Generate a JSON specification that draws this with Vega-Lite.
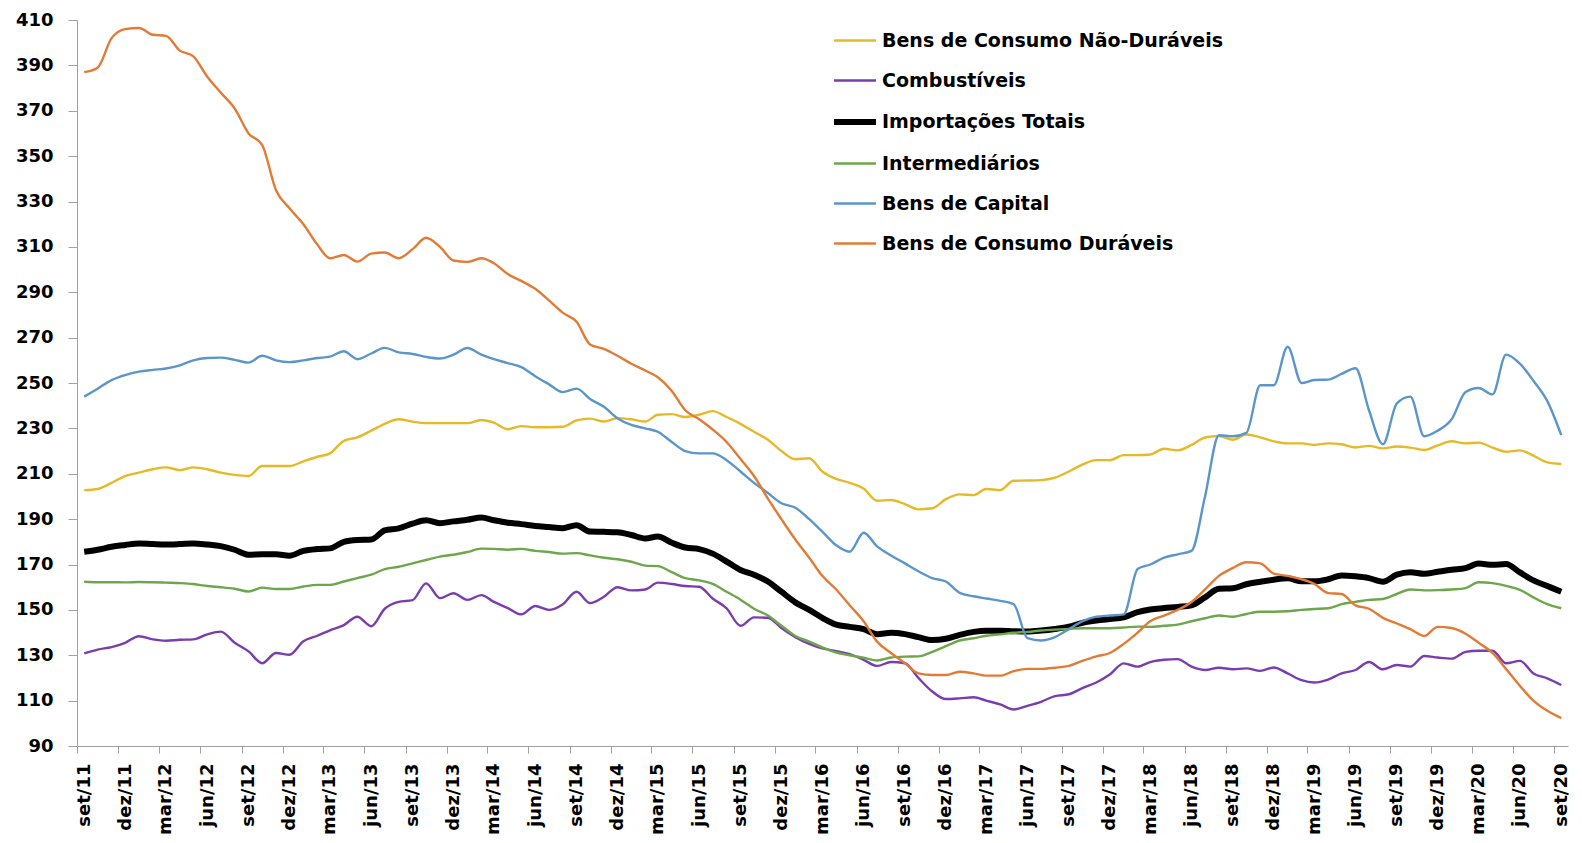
{
"$schema":"https://vega.github.io/schema/vega-lite/v6.json",
"width":1491,"height":726,
"autosize":{"type":"none"},
"padding":{"left":77,"top":20,"right":14,"bottom":97},
"background":"white",
"config":{"view":{"stroke":null},"font":"DejaVu Sans"},
"datasets":{"series":[
{"s":"ND","name":"Bens de Consumo Não-Duráveis"},
{"s":"C","name":"Combustíveis"},
{"s":"T","name":"Importações Totais"},
{"s":"I","name":"Intermediários"},
{"s":"K","name":"Bens de Capital"},
{"s":"D","name":"Bens de Consumo Duráveis"}
]},
"data":{"values":[
{"d":"2011-09","s":"ND","v":202.8},{"d":"2011-10","s":"ND","v":203.3},{"d":"2011-11","s":"ND","v":206},{"d":"2011-12","s":"ND","v":209},{"d":"2012-01","s":"ND","v":210.5},{"d":"2012-02","s":"ND","v":212},{"d":"2012-03","s":"ND","v":212.8},{"d":"2012-04","s":"ND","v":211.6},{"d":"2012-05","s":"ND","v":212.8},{"d":"2012-06","s":"ND","v":212},
{"d":"2012-07","s":"ND","v":210.5},{"d":"2012-08","s":"ND","v":209.5},{"d":"2012-09","s":"ND","v":209},{"d":"2012-10","s":"ND","v":213.4},{"d":"2012-11","s":"ND","v":213.4},{"d":"2012-12","s":"ND","v":213.4},{"d":"2013-01","s":"ND","v":215.5},{"d":"2013-02","s":"ND","v":217.5},{"d":"2013-03","s":"ND","v":219},{"d":"2013-04","s":"ND","v":224.5},
{"d":"2013-05","s":"ND","v":226},{"d":"2013-06","s":"ND","v":229},{"d":"2013-07","s":"ND","v":232},{"d":"2013-08","s":"ND","v":234},{"d":"2013-09","s":"ND","v":233},{"d":"2013-10","s":"ND","v":232.3},{"d":"2013-11","s":"ND","v":232.3},{"d":"2013-12","s":"ND","v":232.3},{"d":"2014-01","s":"ND","v":232.3},{"d":"2014-02","s":"ND","v":233.7},
{"d":"2014-03","s":"ND","v":232.5},{"d":"2014-04","s":"ND","v":229.6},{"d":"2014-05","s":"ND","v":231},{"d":"2014-06","s":"ND","v":230.5},{"d":"2014-07","s":"ND","v":230.5},{"d":"2014-08","s":"ND","v":230.7},{"d":"2014-09","s":"ND","v":233.5},{"d":"2014-10","s":"ND","v":234.3},{"d":"2014-11","s":"ND","v":233},{"d":"2014-12","s":"ND","v":234.5},
{"d":"2015-01","s":"ND","v":234},{"d":"2015-02","s":"ND","v":233},{"d":"2015-03","s":"ND","v":236},{"d":"2015-04","s":"ND","v":236.3},{"d":"2015-05","s":"ND","v":235},{"d":"2015-06","s":"ND","v":236},{"d":"2015-07","s":"ND","v":237.6},{"d":"2015-08","s":"ND","v":235},{"d":"2015-09","s":"ND","v":232},{"d":"2015-10","s":"ND","v":228.5},
{"d":"2015-11","s":"ND","v":225},{"d":"2015-12","s":"ND","v":220},{"d":"2016-01","s":"ND","v":216.4},{"d":"2016-02","s":"ND","v":216.8},{"d":"2016-03","s":"ND","v":211},{"d":"2016-04","s":"ND","v":207.7},{"d":"2016-05","s":"ND","v":206},{"d":"2016-06","s":"ND","v":203.5},{"d":"2016-07","s":"ND","v":198.1},{"d":"2016-08","s":"ND","v":198.4},
{"d":"2016-09","s":"ND","v":196.6},{"d":"2016-10","s":"ND","v":194.3},{"d":"2016-11","s":"ND","v":194.8},{"d":"2016-12","s":"ND","v":198.8},{"d":"2017-01","s":"ND","v":200.9},{"d":"2017-02","s":"ND","v":200.6},{"d":"2017-03","s":"ND","v":203.3},{"d":"2017-04","s":"ND","v":202.8},{"d":"2017-05","s":"ND","v":206.9},{"d":"2017-06","s":"ND","v":207},
{"d":"2017-07","s":"ND","v":207.2},{"d":"2017-08","s":"ND","v":208.3},{"d":"2017-09","s":"ND","v":211},{"d":"2017-10","s":"ND","v":214},{"d":"2017-11","s":"ND","v":216},{"d":"2017-12","s":"ND","v":216},{"d":"2018-01","s":"ND","v":218.2},{"d":"2018-02","s":"ND","v":218.2},{"d":"2018-03","s":"ND","v":218.5},{"d":"2018-04","s":"ND","v":221},
{"d":"2018-05","s":"ND","v":220.3},{"d":"2018-06","s":"ND","v":222.7},{"d":"2018-07","s":"ND","v":226},{"d":"2018-08","s":"ND","v":226.6},{"d":"2018-09","s":"ND","v":225},{"d":"2018-10","s":"ND","v":227.3},{"d":"2018-11","s":"ND","v":226},{"d":"2018-12","s":"ND","v":224.3},{"d":"2019-01","s":"ND","v":223.4},{"d":"2019-02","s":"ND","v":223.4},
{"d":"2019-03","s":"ND","v":222.7},{"d":"2019-04","s":"ND","v":223.4},{"d":"2019-05","s":"ND","v":223},{"d":"2019-06","s":"ND","v":221.6},{"d":"2019-07","s":"ND","v":222.3},{"d":"2019-08","s":"ND","v":221.2},{"d":"2019-09","s":"ND","v":222},{"d":"2019-10","s":"ND","v":221.5},{"d":"2019-11","s":"ND","v":220.5},{"d":"2019-12","s":"ND","v":222.5},
{"d":"2020-01","s":"ND","v":224.3},{"d":"2020-02","s":"ND","v":223.4},{"d":"2020-03","s":"ND","v":223.7},{"d":"2020-04","s":"ND","v":221.5},{"d":"2020-05","s":"ND","v":219.7},{"d":"2020-06","s":"ND","v":220.3},{"d":"2020-07","s":"ND","v":218},{"d":"2020-08","s":"ND","v":215},{"d":"2020-09","s":"ND","v":214.3},

{"d":"2011-09","s":"C","v":130.8},{"d":"2011-10","s":"C","v":132.5},{"d":"2011-11","s":"C","v":133.6},{"d":"2011-12","s":"C","v":135.5},{"d":"2012-01","s":"C","v":138.4},{"d":"2012-02","s":"C","v":137},{"d":"2012-03","s":"C","v":136.4},{"d":"2012-04","s":"C","v":136.8},{"d":"2012-05","s":"C","v":137},{"d":"2012-06","s":"C","v":139.2},
{"d":"2012-07","s":"C","v":140.4},{"d":"2012-08","s":"C","v":135.5},{"d":"2012-09","s":"C","v":131.7},{"d":"2012-10","s":"C","v":126.5},{"d":"2012-11","s":"C","v":131},{"d":"2012-12","s":"C","v":130.2},{"d":"2013-01","s":"C","v":136.2},{"d":"2013-02","s":"C","v":138.6},{"d":"2013-03","s":"C","v":141},{"d":"2013-04","s":"C","v":143.3},
{"d":"2013-05","s":"C","v":147},{"d":"2013-06","s":"C","v":142.8},{"d":"2013-07","s":"C","v":150.5},{"d":"2013-08","s":"C","v":153.5},{"d":"2013-09","s":"C","v":154.3},{"d":"2013-10","s":"C","v":161.7},{"d":"2013-11","s":"C","v":155.2},{"d":"2013-12","s":"C","v":157.3},{"d":"2014-01","s":"C","v":154.4},{"d":"2014-02","s":"C","v":156.5},
{"d":"2014-03","s":"C","v":153.5},{"d":"2014-04","s":"C","v":150.8},{"d":"2014-05","s":"C","v":148},{"d":"2014-06","s":"C","v":151.7},{"d":"2014-07","s":"C","v":150},{"d":"2014-08","s":"C","v":152.4},{"d":"2014-09","s":"C","v":158},{"d":"2014-10","s":"C","v":153},{"d":"2014-11","s":"C","v":155.8},{"d":"2014-12","s":"C","v":160},
{"d":"2015-01","s":"C","v":158.6},{"d":"2015-02","s":"C","v":159},{"d":"2015-03","s":"C","v":162},{"d":"2015-04","s":"C","v":161.4},{"d":"2015-05","s":"C","v":160.5},{"d":"2015-06","s":"C","v":160.2},{"d":"2015-07","s":"C","v":155},{"d":"2015-08","s":"C","v":150.7},{"d":"2015-09","s":"C","v":143},{"d":"2015-10","s":"C","v":146.7},
{"d":"2015-11","s":"C","v":146.5},{"d":"2015-12","s":"C","v":142},{"d":"2016-01","s":"C","v":138},{"d":"2016-02","s":"C","v":135},{"d":"2016-03","s":"C","v":133},{"d":"2016-04","s":"C","v":131.8},{"d":"2016-05","s":"C","v":130.5},{"d":"2016-06","s":"C","v":128},{"d":"2016-07","s":"C","v":125.3},{"d":"2016-08","s":"C","v":127},
{"d":"2016-09","s":"C","v":126.5},{"d":"2016-10","s":"C","v":120},{"d":"2016-11","s":"C","v":114},{"d":"2016-12","s":"C","v":110.7},{"d":"2017-01","s":"C","v":111},{"d":"2017-02","s":"C","v":111.5},{"d":"2017-03","s":"C","v":110},{"d":"2017-04","s":"C","v":108.3},{"d":"2017-05","s":"C","v":106.1},{"d":"2017-06","s":"C","v":107.7},
{"d":"2017-07","s":"C","v":109.5},{"d":"2017-08","s":"C","v":112},{"d":"2017-09","s":"C","v":112.8},{"d":"2017-10","s":"C","v":115.5},{"d":"2017-11","s":"C","v":118},{"d":"2017-12","s":"C","v":121.5},{"d":"2018-01","s":"C","v":126.4},{"d":"2018-02","s":"C","v":125},{"d":"2018-03","s":"C","v":127},{"d":"2018-04","s":"C","v":128},
{"d":"2018-05","s":"C","v":128.3},{"d":"2018-06","s":"C","v":125},{"d":"2018-07","s":"C","v":123.5},{"d":"2018-08","s":"C","v":124.5},{"d":"2018-09","s":"C","v":123.8},{"d":"2018-10","s":"C","v":124.2},{"d":"2018-11","s":"C","v":123.1},{"d":"2018-12","s":"C","v":124.6},{"d":"2019-01","s":"C","v":122},{"d":"2019-02","s":"C","v":119},
{"d":"2019-03","s":"C","v":118},{"d":"2019-04","s":"C","v":119.3},{"d":"2019-05","s":"C","v":122},{"d":"2019-06","s":"C","v":123.5},{"d":"2019-07","s":"C","v":127},{"d":"2019-08","s":"C","v":123.8},{"d":"2019-09","s":"C","v":125.7},{"d":"2019-10","s":"C","v":125},{"d":"2019-11","s":"C","v":129.7},{"d":"2019-12","s":"C","v":129},
{"d":"2020-01","s":"C","v":128.5},{"d":"2020-02","s":"C","v":131.5},{"d":"2020-03","s":"C","v":132},{"d":"2020-04","s":"C","v":132},{"d":"2020-05","s":"C","v":126.5},{"d":"2020-06","s":"C","v":127.5},{"d":"2020-07","s":"C","v":122},{"d":"2020-08","s":"C","v":119.8},{"d":"2020-09","s":"C","v":116.9},

{"d":"2011-09","s":"T","v":175.6},{"d":"2011-10","s":"T","v":176.5},{"d":"2011-11","s":"T","v":177.8},{"d":"2011-12","s":"T","v":178.6},{"d":"2012-01","s":"T","v":179.3},{"d":"2012-02","s":"T","v":179},{"d":"2012-03","s":"T","v":178.8},{"d":"2012-04","s":"T","v":179},{"d":"2012-05","s":"T","v":179.3},{"d":"2012-06","s":"T","v":178.8},
{"d":"2012-07","s":"T","v":178.1},{"d":"2012-08","s":"T","v":176.5},{"d":"2012-09","s":"T","v":174.3},{"d":"2012-10","s":"T","v":174.5},{"d":"2012-11","s":"T","v":174.5},{"d":"2012-12","s":"T","v":173.9},{"d":"2013-01","s":"T","v":176},{"d":"2013-02","s":"T","v":176.8},{"d":"2013-03","s":"T","v":177.1},{"d":"2013-04","s":"T","v":180},
{"d":"2013-05","s":"T","v":180.8},{"d":"2013-06","s":"T","v":181},{"d":"2013-07","s":"T","v":185},{"d":"2013-08","s":"T","v":185.9},{"d":"2013-09","s":"T","v":188},{"d":"2013-10","s":"T","v":189.5},{"d":"2013-11","s":"T","v":188.2},{"d":"2013-12","s":"T","v":189},{"d":"2014-01","s":"T","v":189.7},{"d":"2014-02","s":"T","v":190.7},
{"d":"2014-03","s":"T","v":189.5},{"d":"2014-04","s":"T","v":188.4},{"d":"2014-05","s":"T","v":187.8},{"d":"2014-06","s":"T","v":187},{"d":"2014-07","s":"T","v":186.5},{"d":"2014-08","s":"T","v":186},{"d":"2014-09","s":"T","v":187.3},{"d":"2014-10","s":"T","v":184.5},{"d":"2014-11","s":"T","v":184.4},{"d":"2014-12","s":"T","v":184.2},
{"d":"2015-01","s":"T","v":183},{"d":"2015-02","s":"T","v":181.5},{"d":"2015-03","s":"T","v":182.3},{"d":"2015-04","s":"T","v":179.6},{"d":"2015-05","s":"T","v":177.5},{"d":"2015-06","s":"T","v":176.8},{"d":"2015-07","s":"T","v":174.8},{"d":"2015-08","s":"T","v":171.3},{"d":"2015-09","s":"T","v":167.6},{"d":"2015-10","s":"T","v":165.5},
{"d":"2015-11","s":"T","v":162.5},{"d":"2015-12","s":"T","v":158},{"d":"2016-01","s":"T","v":153.3},{"d":"2016-02","s":"T","v":150},{"d":"2016-03","s":"T","v":146.5},{"d":"2016-04","s":"T","v":143.5},{"d":"2016-05","s":"T","v":142.5},{"d":"2016-06","s":"T","v":141.5},{"d":"2016-07","s":"T","v":139.3},{"d":"2016-08","s":"T","v":139.9},
{"d":"2016-09","s":"T","v":139.3},{"d":"2016-10","s":"T","v":138},{"d":"2016-11","s":"T","v":136.7},{"d":"2016-12","s":"T","v":137.3},{"d":"2017-01","s":"T","v":139},{"d":"2017-02","s":"T","v":140.3},{"d":"2017-03","s":"T","v":140.8},{"d":"2017-04","s":"T","v":140.8},{"d":"2017-05","s":"T","v":140.6},{"d":"2017-06","s":"T","v":140.5},
{"d":"2017-07","s":"T","v":140.9},{"d":"2017-08","s":"T","v":141.6},{"d":"2017-09","s":"T","v":142.6},{"d":"2017-10","s":"T","v":144.3},{"d":"2017-11","s":"T","v":145.3},{"d":"2017-12","s":"T","v":146},{"d":"2018-01","s":"T","v":146.7},{"d":"2018-02","s":"T","v":149},{"d":"2018-03","s":"T","v":150.2},{"d":"2018-04","s":"T","v":150.8},
{"d":"2018-05","s":"T","v":151.3},{"d":"2018-06","s":"T","v":152},{"d":"2018-07","s":"T","v":155.5},{"d":"2018-08","s":"T","v":159.3},{"d":"2018-09","s":"T","v":159.5},{"d":"2018-10","s":"T","v":161.3},{"d":"2018-11","s":"T","v":162.4},{"d":"2018-12","s":"T","v":163.3},{"d":"2019-01","s":"T","v":163.9},{"d":"2019-02","s":"T","v":162.6},
{"d":"2019-03","s":"T","v":162.6},{"d":"2019-04","s":"T","v":163.5},{"d":"2019-05","s":"T","v":165.2},{"d":"2019-06","s":"T","v":164.8},{"d":"2019-07","s":"T","v":164},{"d":"2019-08","s":"T","v":162.4},{"d":"2019-09","s":"T","v":165.5},{"d":"2019-10","s":"T","v":166.6},{"d":"2019-11","s":"T","v":165.9},{"d":"2019-12","s":"T","v":166.8},
{"d":"2020-01","s":"T","v":167.7},{"d":"2020-02","s":"T","v":168.4},{"d":"2020-03","s":"T","v":170.4},{"d":"2020-04","s":"T","v":169.9},{"d":"2020-05","s":"T","v":170.2},{"d":"2020-06","s":"T","v":166.5},{"d":"2020-07","s":"T","v":163},{"d":"2020-08","s":"T","v":160.5},{"d":"2020-09","s":"T","v":158},

{"d":"2011-09","s":"I","v":162.4},{"d":"2011-10","s":"I","v":162.2},{"d":"2011-11","s":"I","v":162.2},{"d":"2011-12","s":"I","v":162.1},{"d":"2012-01","s":"I","v":162.3},{"d":"2012-02","s":"I","v":162.2},{"d":"2012-03","s":"I","v":162},{"d":"2012-04","s":"I","v":161.8},{"d":"2012-05","s":"I","v":161.4},{"d":"2012-06","s":"I","v":160.5},
{"d":"2012-07","s":"I","v":160},{"d":"2012-08","s":"I","v":159.3},{"d":"2012-09","s":"I","v":158.1},{"d":"2012-10","s":"I","v":159.8},{"d":"2012-11","s":"I","v":159.2},{"d":"2012-12","s":"I","v":159.2},{"d":"2013-01","s":"I","v":160.3},{"d":"2013-02","s":"I","v":161},{"d":"2013-03","s":"I","v":161},{"d":"2013-04","s":"I","v":162.5},
{"d":"2013-05","s":"I","v":164},{"d":"2013-06","s":"I","v":165.5},{"d":"2013-07","s":"I","v":168},{"d":"2013-08","s":"I","v":169},{"d":"2013-09","s":"I","v":170.5},{"d":"2013-10","s":"I","v":172},{"d":"2013-11","s":"I","v":173.5},{"d":"2013-12","s":"I","v":174.3},{"d":"2014-01","s":"I","v":175.5},{"d":"2014-02","s":"I","v":177},
{"d":"2014-03","s":"I","v":176.9},{"d":"2014-04","s":"I","v":176.5},{"d":"2014-05","s":"I","v":176.9},{"d":"2014-06","s":"I","v":176},{"d":"2014-07","s":"I","v":175.5},{"d":"2014-08","s":"I","v":174.8},{"d":"2014-09","s":"I","v":175},{"d":"2014-10","s":"I","v":174},{"d":"2014-11","s":"I","v":173},{"d":"2014-12","s":"I","v":172.3},
{"d":"2015-01","s":"I","v":171.2},{"d":"2015-02","s":"I","v":169.5},{"d":"2015-03","s":"I","v":169.3},{"d":"2015-04","s":"I","v":166.6},{"d":"2015-05","s":"I","v":164},{"d":"2015-06","s":"I","v":163},{"d":"2015-07","s":"I","v":161.5},{"d":"2015-08","s":"I","v":158},{"d":"2015-09","s":"I","v":154.5},{"d":"2015-10","s":"I","v":150.5},
{"d":"2015-11","s":"I","v":147.5},{"d":"2015-12","s":"I","v":143},{"d":"2016-01","s":"I","v":138.5},{"d":"2016-02","s":"I","v":136},{"d":"2016-03","s":"I","v":133.5},{"d":"2016-04","s":"I","v":131.2},{"d":"2016-05","s":"I","v":130},{"d":"2016-06","s":"I","v":128.9},{"d":"2016-07","s":"I","v":127.7},{"d":"2016-08","s":"I","v":129},
{"d":"2016-09","s":"I","v":129.4},{"d":"2016-10","s":"I","v":129.5},{"d":"2016-11","s":"I","v":131.5},{"d":"2016-12","s":"I","v":134},{"d":"2017-01","s":"I","v":136.5},{"d":"2017-02","s":"I","v":137.5},{"d":"2017-03","s":"I","v":138.6},{"d":"2017-04","s":"I","v":139.2},{"d":"2017-05","s":"I","v":139.9},{"d":"2017-06","s":"I","v":140.3},
{"d":"2017-07","s":"I","v":140.9},{"d":"2017-08","s":"I","v":141.3},{"d":"2017-09","s":"I","v":141.6},{"d":"2017-10","s":"I","v":141.9},{"d":"2017-11","s":"I","v":141.9},{"d":"2017-12","s":"I","v":141.9},{"d":"2018-01","s":"I","v":142.2},{"d":"2018-02","s":"I","v":142.6},{"d":"2018-03","s":"I","v":142.5},{"d":"2018-04","s":"I","v":143},
{"d":"2018-05","s":"I","v":143.5},{"d":"2018-06","s":"I","v":145},{"d":"2018-07","s":"I","v":146.3},{"d":"2018-08","s":"I","v":147.5},{"d":"2018-09","s":"I","v":147},{"d":"2018-10","s":"I","v":148.2},{"d":"2018-11","s":"I","v":149.2},{"d":"2018-12","s":"I","v":149.2},{"d":"2019-01","s":"I","v":149.4},{"d":"2019-02","s":"I","v":150},
{"d":"2019-03","s":"I","v":150.4},{"d":"2019-04","s":"I","v":150.7},{"d":"2019-05","s":"I","v":152.5},{"d":"2019-06","s":"I","v":153.5},{"d":"2019-07","s":"I","v":154.4},{"d":"2019-08","s":"I","v":154.8},{"d":"2019-09","s":"I","v":157},{"d":"2019-10","s":"I","v":159},{"d":"2019-11","s":"I","v":158.6},{"d":"2019-12","s":"I","v":158.7},
{"d":"2020-01","s":"I","v":159},{"d":"2020-02","s":"I","v":159.6},{"d":"2020-03","s":"I","v":162.2},{"d":"2020-04","s":"I","v":161.8},{"d":"2020-05","s":"I","v":160.6},{"d":"2020-06","s":"I","v":158.8},{"d":"2020-07","s":"I","v":155.5},{"d":"2020-08","s":"I","v":152.5},{"d":"2020-09","s":"I","v":150.7},

{"d":"2011-09","s":"K","v":244},{"d":"2011-10","s":"K","v":247.5},{"d":"2011-11","s":"K","v":251.3},{"d":"2011-12","s":"K","v":253.5},{"d":"2012-01","s":"K","v":255},{"d":"2012-02","s":"K","v":255.8},{"d":"2012-03","s":"K","v":256.4},{"d":"2012-04","s":"K","v":257.8},{"d":"2012-05","s":"K","v":260},{"d":"2012-06","s":"K","v":261},
{"d":"2012-07","s":"K","v":261.2},{"d":"2012-08","s":"K","v":260.2},{"d":"2012-09","s":"K","v":259},{"d":"2012-10","s":"K","v":262},{"d":"2012-11","s":"K","v":260},{"d":"2012-12","s":"K","v":259.2},{"d":"2013-01","s":"K","v":260},{"d":"2013-02","s":"K","v":261},{"d":"2013-03","s":"K","v":261.6},{"d":"2013-04","s":"K","v":264},
{"d":"2013-05","s":"K","v":260.5},{"d":"2013-06","s":"K","v":263},{"d":"2013-07","s":"K","v":265.5},{"d":"2013-08","s":"K","v":263.5},{"d":"2013-09","s":"K","v":262.8},{"d":"2013-10","s":"K","v":261.5},{"d":"2013-11","s":"K","v":260.8},{"d":"2013-12","s":"K","v":262.5},{"d":"2014-01","s":"K","v":265.4},{"d":"2014-02","s":"K","v":262.5},
{"d":"2014-03","s":"K","v":260.5},{"d":"2014-04","s":"K","v":258.8},{"d":"2014-05","s":"K","v":257},{"d":"2014-06","s":"K","v":253},{"d":"2014-07","s":"K","v":249.5},{"d":"2014-08","s":"K","v":246},{"d":"2014-09","s":"K","v":247.5},{"d":"2014-10","s":"K","v":243},{"d":"2014-11","s":"K","v":239.5},{"d":"2014-12","s":"K","v":234.5},
{"d":"2015-01","s":"K","v":231.5},{"d":"2015-02","s":"K","v":230},{"d":"2015-03","s":"K","v":228.5},{"d":"2015-04","s":"K","v":224},{"d":"2015-05","s":"K","v":220},{"d":"2015-06","s":"K","v":219},{"d":"2015-07","s":"K","v":219},{"d":"2015-08","s":"K","v":216},{"d":"2015-09","s":"K","v":211},{"d":"2015-10","s":"K","v":206},
{"d":"2015-11","s":"K","v":201.5},{"d":"2015-12","s":"K","v":197},{"d":"2016-01","s":"K","v":195},{"d":"2016-02","s":"K","v":190},{"d":"2016-03","s":"K","v":184.5},{"d":"2016-04","s":"K","v":178.5},{"d":"2016-05","s":"K","v":175.6},{"d":"2016-06","s":"K","v":184},{"d":"2016-07","s":"K","v":178},{"d":"2016-08","s":"K","v":174},
{"d":"2016-09","s":"K","v":170.5},{"d":"2016-10","s":"K","v":167},{"d":"2016-11","s":"K","v":164},{"d":"2016-12","s":"K","v":162.5},{"d":"2017-01","s":"K","v":157.5},{"d":"2017-02","s":"K","v":156},{"d":"2017-03","s":"K","v":155},{"d":"2017-04","s":"K","v":154},{"d":"2017-05","s":"K","v":152.5},{"d":"2017-06","s":"K","v":137.5},
{"d":"2017-07","s":"K","v":136.5},{"d":"2017-08","s":"K","v":138},{"d":"2017-09","s":"K","v":141.5},{"d":"2017-10","s":"K","v":145},{"d":"2017-11","s":"K","v":147},{"d":"2017-12","s":"K","v":147.5},{"d":"2018-01","s":"K","v":148},{"d":"2018-02","s":"K","v":168},{"d":"2018-03","s":"K","v":170},{"d":"2018-04","s":"K","v":173},
{"d":"2018-05","s":"K","v":174.5},{"d":"2018-06","s":"K","v":176},{"d":"2018-07","s":"K","v":200},{"d":"2018-08","s":"K","v":227},{"d":"2018-09","s":"K","v":226.5},{"d":"2018-10","s":"K","v":228},{"d":"2018-11","s":"K","v":249},{"d":"2018-12","s":"K","v":249},{"d":"2019-01","s":"K","v":266},{"d":"2019-02","s":"K","v":250},
{"d":"2019-03","s":"K","v":251.3},{"d":"2019-04","s":"K","v":251.5},{"d":"2019-05","s":"K","v":254},{"d":"2019-06","s":"K","v":256.5},{"d":"2019-07","s":"K","v":238},{"d":"2019-08","s":"K","v":223},{"d":"2019-09","s":"K","v":241},{"d":"2019-10","s":"K","v":244},{"d":"2019-11","s":"K","v":226.5},{"d":"2019-12","s":"K","v":229},
{"d":"2020-01","s":"K","v":234},{"d":"2020-02","s":"K","v":246},{"d":"2020-03","s":"K","v":247.8},{"d":"2020-04","s":"K","v":245},{"d":"2020-05","s":"K","v":262.5},{"d":"2020-06","s":"K","v":258.5},{"d":"2020-07","s":"K","v":251},{"d":"2020-08","s":"K","v":242},{"d":"2020-09","s":"K","v":227},

{"d":"2011-09","s":"D","v":387},{"d":"2011-10","s":"D","v":389},{"d":"2011-11","s":"D","v":402},{"d":"2011-12","s":"D","v":406},{"d":"2012-01","s":"D","v":406.5},{"d":"2012-02","s":"D","v":403.5},{"d":"2012-03","s":"D","v":403},{"d":"2012-04","s":"D","v":396.5},{"d":"2012-05","s":"D","v":394},{"d":"2012-06","s":"D","v":385},
{"d":"2012-07","s":"D","v":378},{"d":"2012-08","s":"D","v":371},{"d":"2012-09","s":"D","v":360},{"d":"2012-10","s":"D","v":355},{"d":"2012-11","s":"D","v":335},{"d":"2012-12","s":"D","v":327},{"d":"2013-01","s":"D","v":320},{"d":"2013-02","s":"D","v":311},{"d":"2013-03","s":"D","v":305},{"d":"2013-04","s":"D","v":306.4},
{"d":"2013-05","s":"D","v":303.5},{"d":"2013-06","s":"D","v":307},{"d":"2013-07","s":"D","v":307.5},{"d":"2013-08","s":"D","v":305},{"d":"2013-09","s":"D","v":309},{"d":"2013-10","s":"D","v":314},{"d":"2013-11","s":"D","v":310},{"d":"2013-12","s":"D","v":304},{"d":"2014-01","s":"D","v":303.4},{"d":"2014-02","s":"D","v":305},
{"d":"2014-03","s":"D","v":302.8},{"d":"2014-04","s":"D","v":298},{"d":"2014-05","s":"D","v":295},{"d":"2014-06","s":"D","v":291.5},{"d":"2014-07","s":"D","v":286.5},{"d":"2014-08","s":"D","v":281},{"d":"2014-09","s":"D","v":277},{"d":"2014-10","s":"D","v":267},{"d":"2014-11","s":"D","v":265},{"d":"2014-12","s":"D","v":262},
{"d":"2015-01","s":"D","v":258.5},{"d":"2015-02","s":"D","v":255.5},{"d":"2015-03","s":"D","v":252.5},{"d":"2015-04","s":"D","v":246.5},{"d":"2015-05","s":"D","v":238},{"d":"2015-06","s":"D","v":234},{"d":"2015-07","s":"D","v":229.5},{"d":"2015-08","s":"D","v":224},{"d":"2015-09","s":"D","v":216.5},{"d":"2015-10","s":"D","v":209},
{"d":"2015-11","s":"D","v":199},{"d":"2015-12","s":"D","v":190},{"d":"2016-01","s":"D","v":181},{"d":"2016-02","s":"D","v":173},{"d":"2016-03","s":"D","v":165},{"d":"2016-04","s":"D","v":159},{"d":"2016-05","s":"D","v":152},{"d":"2016-06","s":"D","v":145},{"d":"2016-07","s":"D","v":136},{"d":"2016-08","s":"D","v":131},
{"d":"2016-09","s":"D","v":126.5},{"d":"2016-10","s":"D","v":122},{"d":"2016-11","s":"D","v":121.3},{"d":"2016-12","s":"D","v":121.3},{"d":"2017-01","s":"D","v":122.7},{"d":"2017-02","s":"D","v":122},{"d":"2017-03","s":"D","v":121},{"d":"2017-04","s":"D","v":121},{"d":"2017-05","s":"D","v":123},{"d":"2017-06","s":"D","v":124},
{"d":"2017-07","s":"D","v":124},{"d":"2017-08","s":"D","v":124.5},{"d":"2017-09","s":"D","v":125.3},{"d":"2017-10","s":"D","v":127.5},{"d":"2017-11","s":"D","v":129.5},{"d":"2017-12","s":"D","v":131},{"d":"2018-01","s":"D","v":135},{"d":"2018-02","s":"D","v":140},{"d":"2018-03","s":"D","v":145},{"d":"2018-04","s":"D","v":147.5},
{"d":"2018-05","s":"D","v":150},{"d":"2018-06","s":"D","v":153.5},{"d":"2018-07","s":"D","v":159},{"d":"2018-08","s":"D","v":165},{"d":"2018-09","s":"D","v":168.5},{"d":"2018-10","s":"D","v":171},{"d":"2018-11","s":"D","v":170.5},{"d":"2018-12","s":"D","v":166},{"d":"2019-01","s":"D","v":165},{"d":"2019-02","s":"D","v":163.5},
{"d":"2019-03","s":"D","v":161.5},{"d":"2019-04","s":"D","v":157.4},{"d":"2019-05","s":"D","v":157},{"d":"2019-06","s":"D","v":152},{"d":"2019-07","s":"D","v":150.5},{"d":"2019-08","s":"D","v":146.5},{"d":"2019-09","s":"D","v":144},{"d":"2019-10","s":"D","v":141.5},{"d":"2019-11","s":"D","v":138.5},{"d":"2019-12","s":"D","v":142.5},
{"d":"2020-01","s":"D","v":142},{"d":"2020-02","s":"D","v":139.5},{"d":"2020-03","s":"D","v":135.5},{"d":"2020-04","s":"D","v":131},{"d":"2020-05","s":"D","v":124},{"d":"2020-06","s":"D","v":116.5},{"d":"2020-07","s":"D","v":110},{"d":"2020-08","s":"D","v":105.5},{"d":"2020-09","s":"D","v":102.3}
]},
"transform":[{"lookup":"s","from":{"data":{"name":"series"},"key":"s","fields":["name"]}}],
"mark":{"type":"line","interpolate":"monotone"},
"encoding":{
"x":{"field":"d","type":"temporal",
 "scale":{"type":"utc","domain":[{"year":2011,"month":8,"date":16,"utc":true},{"year":2020,"month":9,"date":16,"utc":true}]},
 "axis":{"title":null,"grid":false,
  "values":[{"year":2011,"month":9,"utc":true},{"year":2011,"month":12,"utc":true},{"year":2012,"month":3,"utc":true},{"year":2012,"month":6,"utc":true},{"year":2012,"month":9,"utc":true},{"year":2012,"month":12,"utc":true},{"year":2013,"month":3,"utc":true},{"year":2013,"month":6,"utc":true},{"year":2013,"month":9,"utc":true},{"year":2013,"month":12,"utc":true},{"year":2014,"month":3,"utc":true},{"year":2014,"month":6,"utc":true},{"year":2014,"month":9,"utc":true},{"year":2014,"month":12,"utc":true},{"year":2015,"month":3,"utc":true},{"year":2015,"month":6,"utc":true},{"year":2015,"month":9,"utc":true},{"year":2015,"month":12,"utc":true},{"year":2016,"month":3,"utc":true},{"year":2016,"month":6,"utc":true},{"year":2016,"month":9,"utc":true},{"year":2016,"month":12,"utc":true},{"year":2017,"month":3,"utc":true},{"year":2017,"month":6,"utc":true},{"year":2017,"month":9,"utc":true},{"year":2017,"month":12,"utc":true},{"year":2018,"month":3,"utc":true},{"year":2018,"month":6,"utc":true},{"year":2018,"month":9,"utc":true},{"year":2018,"month":12,"utc":true},{"year":2019,"month":3,"utc":true},{"year":2019,"month":6,"utc":true},{"year":2019,"month":9,"utc":true},{"year":2019,"month":12,"utc":true},{"year":2020,"month":3,"utc":true},{"year":2020,"month":6,"utc":true},{"year":2020,"month":9,"utc":true}],
  "labelExpr":"['jan','fev','mar','abr','mai','jun','jul','ago','set','out','nov','dez'][utcmonth(datum.value)] + '/' + utcFormat(datum.value, '%y')",
  "labelAngle":-90,"labelAlign":"right","labelBaseline":"middle",
  "labelFont":"DejaVu Sans","labelFontWeight":"bold","labelFontSize":18,"labelColor":"#000000",
  "labelPadding":10,"labelOverlap":false,"labelFlush":false,"labelBound":false,
  "tickOffset":-6.84,"labelOffset":6.84,"tickSize":7,"tickColor":"#A0A0A0","domainColor":"#A0A0A0","tickWidth":1,"domainWidth":1}},
"y":{"field":"v","type":"quantitative",
 "scale":{"domain":[90,410],"nice":false,"zero":false},
 "axis":{"title":null,"grid":false,"values":[90,110,130,150,170,190,210,230,250,270,290,310,330,350,370,390,410],
  "labelFont":"DejaVu Sans","labelFontWeight":"bold","labelFontSize":18,"labelColor":"#000000",
  "labelPadding":15,"tickSize":9,"tickColor":"#A0A0A0","domainColor":"#A0A0A0","labelFlush":false,"labelBound":false}},
"color":{"field":"name","type":"nominal",
 "scale":{"domain":["Bens de Consumo Não-Duráveis","Combustíveis","Importações Totais","Intermediários","Bens de Capital","Bens de Consumo Duráveis"],
  "range":["#E6B929","#7A3DAF","#000000","#6DA64B","#5B96CB","#E27B36"]},
 "legend":{"title":null,"orient":"none","legendX":754,"legendY":-2,"padding":0,"symbolType":"stroke","symbolSize":1764,
  "labelFont":"DejaVu Sans","labelFontWeight":"bold","labelFontSize":19,"labelColor":"#000000","labelLimit":0,"labelOffset":3,"rowPadding":7}},
"strokeWidth":{"field":"name","type":"ordinal",
 "scale":{"type":"ordinal","domain":["Bens de Consumo Não-Duráveis","Combustíveis","Importações Totais","Intermediários","Bens de Capital","Bens de Consumo Duráveis"],
  "range":[2.4,2.4,6,2.4,2.4,2.4]},
 "legend":{"title":null,"orient":"none","legendX":754,"legendY":-2,"padding":0,"symbolType":"stroke","symbolSize":1764,
  "labelFont":"DejaVu Sans","labelFontWeight":"bold","labelFontSize":19,"labelColor":"#000000","labelLimit":0,"labelOffset":3,"rowPadding":7}}
}
}
